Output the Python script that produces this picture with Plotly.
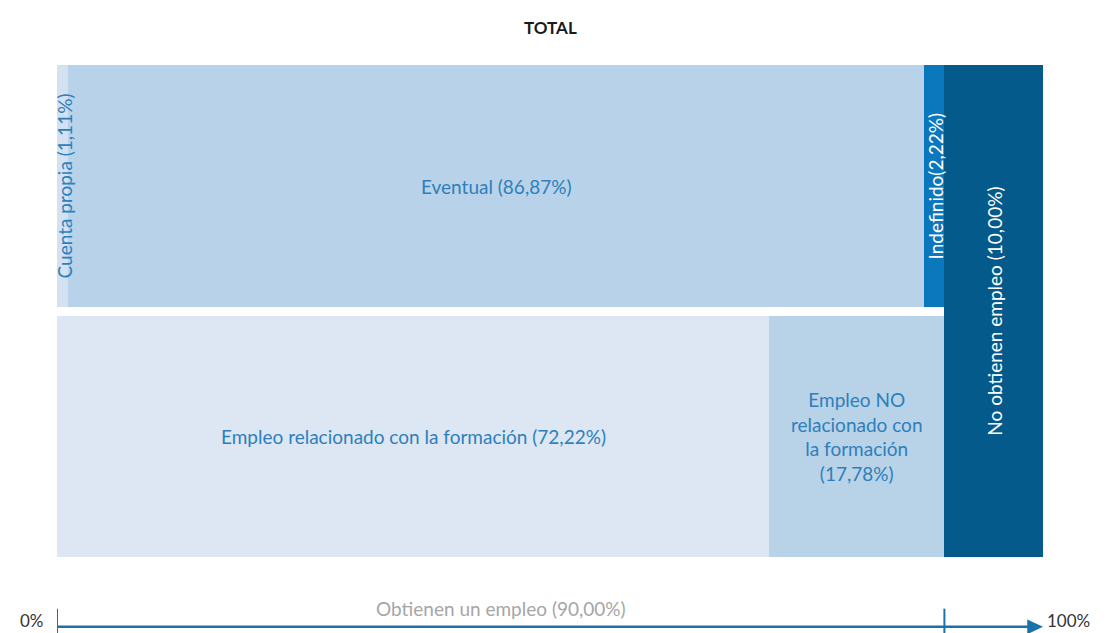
import plotly.graph_objects as go

# ---- data ----
top_labels = ["Cuenta propia", "Eventual", "Indefinido"]
top_values = [1.11, 86.87, 2.22]
top_colors = ["#d3e1f0", "#b8d3e9", "#0b77bd"]
top_text_colors = ["#2e7fba", "#2e7fba", "#ffffff"]
top_text_angle = [-90, 0, -90]
top_label_sep = [" ", " ", ""]

bottom_labels = ["Empleo relacionado con la formación", "Empleo NO<br>relacionado con<br>la formación"]
bottom_values = [72.22, 17.78]
bottom_colors = ["#dce7f3", "#b8d2e8"]

no_emp_label = "No obtienen empleo"
no_emp_value = 10.00
no_emp_color = "#045a8a"

employed_label = "Obtienen un empleo"
employed_value = 90.00

title = "TOTAL"
axis_start_label = "0%"
axis_end_label = "100%"

# row extents on the 0-100 vertical scale
top_row = (50.8, 100.0)
bottom_row = (0.0, 49.0)


def fmt(v):
    return f"{v:.2f}".replace(".", ",") + "%"


FONT = "Lato, Calibri, 'Open Sans', sans-serif"
FS = 19
fig = go.Figure()
annotations = []


def add_block(x0, w, y0, y1, color, name):
    fig.add_trace(go.Bar(
        x=[x0 + w / 2], y=[y1 - y0], base=[y0], width=[w],
        marker=dict(color=color, line=dict(width=0)),
        name=name, hoverinfo="skip", showlegend=False,
    ))


# top row
cum = 0.0
for lab, v, c, tc, ang, sep in zip(top_labels, top_values, top_colors, top_text_colors,
                                   top_text_angle, top_label_sep):
    add_block(cum, v, top_row[0], top_row[1], c, lab)
    annotations.append(dict(
        x=cum + v / 2, y=(top_row[0] + top_row[1]) / 2, xref="x", yref="y",
        text=f"{lab}{sep}({fmt(v)})", showarrow=False, textangle=ang,
        xanchor="center", yanchor="middle",
        font=dict(family=FONT, size=FS, color=tc),
        xshift=2 if lab == "Cuenta propia" else 0,
    ))
    cum += v

# bottom row
cum = 0.0
for lab, v, c in zip(bottom_labels, bottom_values, bottom_colors):
    add_block(cum, v, bottom_row[0], bottom_row[1], c, lab)
    sep = "<br>" if "<br>" in lab else " "
    annotations.append(dict(
        x=cum + v / 2, y=(bottom_row[0] + bottom_row[1]) / 2, xref="x", yref="y",
        text=f"{lab}{sep}({fmt(v)})", showarrow=False,
        xanchor="center", yanchor="middle",
        font=dict(family=FONT, size=FS, color="#2e7fba"),
    ))
    cum += v

# no employment column (full height)
add_block(employed_value, no_emp_value, 0, 100, no_emp_color, no_emp_label)
annotations.append(dict(
    x=employed_value + no_emp_value / 2, y=50, xref="x", yref="y",
    text=f"{no_emp_label} ({fmt(no_emp_value)})", showarrow=False, textangle=-90,
    xanchor="center", yanchor="middle",
    font=dict(family=FONT, size=FS, color="#ffffff"),
))

# bottom axis (arrow)
axis_y = -0.142
axis_color = "#1a72aa"
shapes = [
    dict(type="line", xref="x", yref="paper", x0=0, x1=98.6, y0=axis_y, y1=axis_y,
         line=dict(color=axis_color, width=2.5)),
    dict(type="path", xref="x", yref="paper",
         path=f"M 98.4 {axis_y + 0.015} L 100 {axis_y} L 98.4 {axis_y - 0.015} Z",
         fillcolor=axis_color, line=dict(color=axis_color, width=0)),
    dict(type="line", xref="x", yref="paper", x0=0, x1=0, y0=axis_y + 0.037, y1=axis_y - 0.04,
         line=dict(color=axis_color, width=2)),
    dict(type="line", xref="x", yref="paper", x0=employed_value, x1=employed_value,
         y0=axis_y + 0.037, y1=axis_y - 0.04, line=dict(color=axis_color, width=2)),
]
annotations += [
    dict(x=employed_value / 2, y=axis_y + 0.038, xref="x", yref="paper",
         xanchor="center", yanchor="middle",
         text=f"{employed_label} ({fmt(employed_value)})", showarrow=False,
         font=dict(family=FONT, size=FS, color="#a6a6a6")),
    dict(x=0, y=axis_y, xref="x", yref="paper", text=axis_start_label, showarrow=False,
         xanchor="right", yanchor="middle", xshift=-12, yshift=6, borderpad=0,
         font=dict(family=FONT, size=17, color="#333333")),
    dict(x=100, y=axis_y, xref="x", yref="paper", text=axis_end_label, showarrow=False,
         xanchor="left", yanchor="middle", xshift=3, yshift=6, borderpad=0,
         font=dict(family=FONT, size=17, color="#333333")),
    dict(x=0.5, y=1, xref="paper", yref="paper", yanchor="middle", yshift=38,
         text=f"<b>{title}</b>", showarrow=False,
         font=dict(family=FONT, size=17, color="#1a1a1a")),
]

fig.update_layout(
    width=1112, height=633,
    margin=dict(l=57, r=69, t=65, b=76),
    barmode="overlay", bargap=0,
    plot_bgcolor="white", paper_bgcolor="white",
    xaxis=dict(range=[0, 100], visible=False, fixedrange=True),
    yaxis=dict(range=[0, 100], visible=False, fixedrange=True),
    shapes=shapes, annotations=annotations,
    showlegend=False,
)

fig.write_html("out.html", config={"displayModeBar": False},
               post_script="document.body.style.margin='0';document.body.style.overflow='hidden';")
